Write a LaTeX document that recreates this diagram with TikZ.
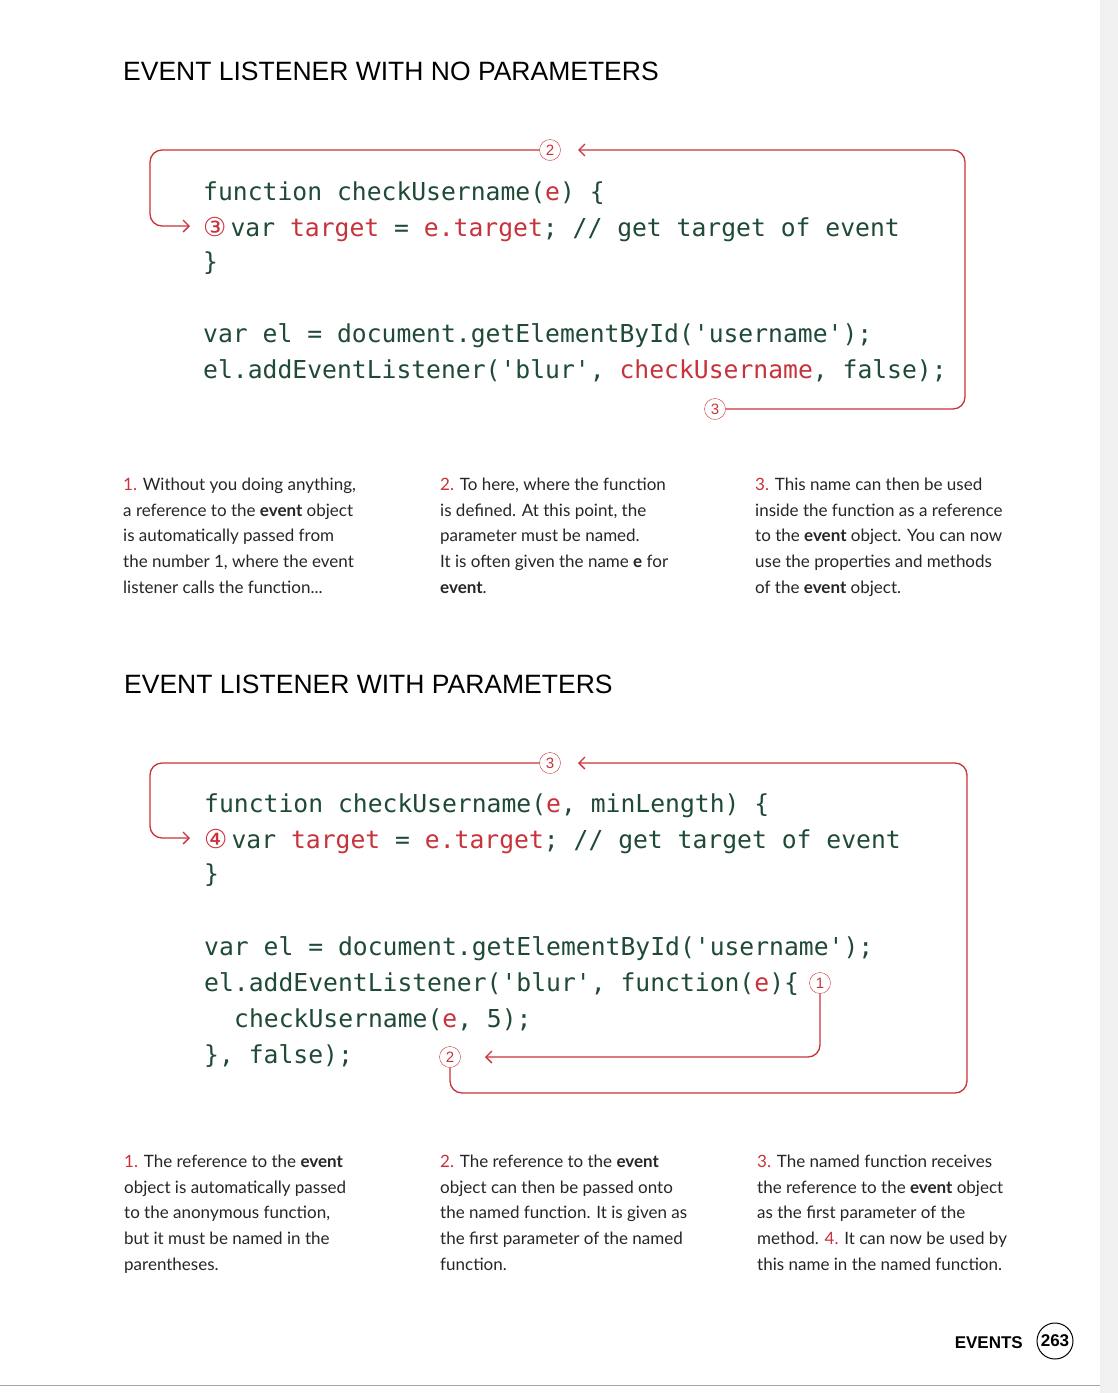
\documentclass[tikz,border=0pt]{standalone}
\usepackage{fontspec}
\setmainfont{Lato}
\setsansfont{Liberation Sans}
\setmonofont{DejaVu Sans Mono}
\newfontfamily\symfont{DejaVu Sans}
\usetikzlibrary{arrows.meta}
\definecolor{pagered}{HTML}{C8323A}
\definecolor{codegreen}{HTML}{1F4A36}
\newcommand{\rd}[1]{\textcolor{pagered}{#1}}
\newcommand{\cnum}[1]{\textcolor{pagered}{\symfont\fontsize{26}{26}\selectfont #1}\,}
\tikzset{
  code/.style={anchor=base west, inner sep=0pt, text=codegreen, font=\ttfamily\fontsize{24.7}{30}\selectfont},
  heading/.style={anchor=base west, inner sep=0pt, font=\sffamily\fontsize{26.5}{30}\selectfont},
  para/.style={anchor=north west, inner sep=0pt, align=left, font=\fontsize{17}{25.6}\selectfont, text=black!85},
  marker/.style={circle, draw=pagered, text=pagered, inner sep=0pt, minimum size=21pt, font=\sffamily\fontsize{15}{15}\selectfont},
  loop/.style={draw=pagered, line width=1.3pt, rounded corners=12pt},
  tip/.style={-{Straight Barb[length=6pt,width=12pt]}}
}
\begin{document}
\begin{tikzpicture}[x=1pt,y=-1pt]
\useasboundingbox (0,0) rectangle (1118,1393);
\fill[white] (0,0) rectangle (1118,1393);
\fill[black!6] (1100,0) rectangle (1118,1393);
\draw[black!35, line width=1pt] (0,1385) -- (1100,1385);

% first example
\node[heading] (title1) at (123,80) {EVENT LISTENER WITH NO PARAMETERS};
\node[code] (a1) at (203,200) {function checkUsername(\rd{e}) \{};
\node[code] (a2) at (203,236) {\cnum{③}var \rd{target} = \rd{e.target}; // get target of event};
\node[code] (a3) at (203,270) {\}};
\node[code] (a4) at (203,342) {var el = document.getElementById('username');};
\node[code] (a5) at (203,378) {el.addEventListener('blur', \rd{checkUsername}, false);};
\node[marker] (m2) at (550,150) {2};
\node[marker] (m3) at (715,409) {3};
\coordinate (in1) at (578,150);
\coordinate (to1) at (190,226);
\draw[loop, tip] (m3.east) -- (965,409) -- (965,150) -- (in1);
\draw[loop, tip] (m2.west) -- (150,150) -- (150,226) -- (to1);

\node[para] (p1) at (123,478) {\rd{1.} Without you doing anything,\\a reference to the \textbf{event} object\\is automatically passed from\\the number 1, where the event\\listener calls the function...};
\node[para] (p2) at (440,478) {\rd{2.} To here, where the function\\is defined. At this point, the\\parameter must be named.\\It is often given the name \textbf{e} for\\\textbf{event}.};
\node[para] (p3) at (755,478) {\rd{3.} This name can then be used\\inside the function as a reference\\to the \textbf{event} object. You can now\\use the properties and methods\\of the \textbf{event} object.};

% second example
\node[heading] (title2) at (124,693) {EVENT LISTENER WITH PARAMETERS};
\node[code] (b1) at (204,812) {function checkUsername(\rd{e}, minLength) \{};
\node[code] (b2) at (204,848) {\cnum{④}var \rd{target} = \rd{e.target}; // get target of event};
\node[code] (b3) at (204,882) {\}};
\node[code] (b4) at (204,955) {var el = document.getElementById('username');};
\node[code] (b5) at (204,991) {el.addEventListener('blur', function(\rd{e})\{};
\node[code] (b6) at (234,1027) {checkUsername(\rd{e}, 5);};
\node[code] (b7) at (204,1063) {\}, false);};
\node[marker] (n1) at (820,983) {1};
\node[marker] (n2) at (450,1057) {2};
\node[marker] (n3) at (550,763) {3};
\coordinate (in2) at (485,1057);
\coordinate (in3) at (578,763);
\coordinate (to2) at (190,838);
\draw[loop, tip] (n1.south) -- (820,1057) -- (in2);
\draw[loop, tip] (n2.south) -- (450,1093) -- (967,1093) -- (967,763) -- (in3);
\draw[loop, tip] (n3.west) -- (150,763) -- (150,838) -- (to2);

\node[para] (q1) at (124,1155) {\rd{1.} The reference to the \textbf{event}\\object is automatically passed\\to the anonymous function,\\but it must be named in the\\parentheses.};
\node[para] (q2) at (440,1155) {\rd{2.} The reference to the \textbf{event}\\object can then be passed onto\\the named function. It is given as\\the first parameter of the named\\function.};
\node[para] (q3) at (757,1155) {\rd{3.} The named function receives\\the reference to the \textbf{event} object\\as the first parameter of the\\method. \rd{4.} It can now be used by\\this name in the named function.};

% footer
\node[anchor=base east, inner sep=0pt, font=\sffamily\bfseries\fontsize{17}{17}\selectfont] (foot) at (1023,1348) {EVENTS};
\node[circle, draw, line width=1pt, minimum size=36pt, inner sep=0pt, font=\sffamily\bfseries\fontsize{17}{17}\selectfont] (pg) at (1055,1341) {263};
\end{tikzpicture}
\end{document}
